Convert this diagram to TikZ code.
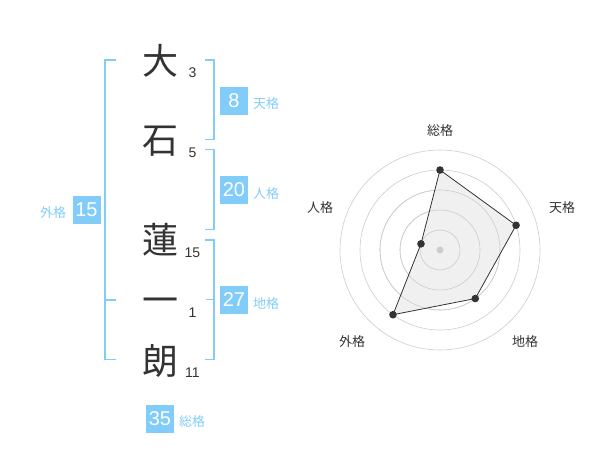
\documentclass[tikz,border=0pt]{standalone}
\usepackage{fontspec}
\setmainfont{Liberation Sans}
\newfontfamily\jp{Noto Sans CJK JP}
\definecolor{ink}{RGB}{51,51,51}
\definecolor{sky}{RGB}{130,204,250}
\definecolor{ringgray}{RGB}{204,204,204}
\definecolor{radarfill}{RGB}{240,240,240}
\begin{document}
\begin{tikzpicture}[x=1pt,y=-1pt,
        kanji/.style={font=\jp\fontsize{36}{36}\selectfont, text=ink, inner sep=0pt},
        strokes/.style={font=\fontsize{14}{14}\selectfont, text=ink, inner sep=0pt},
        kaku/.style={fill=sky, text=white, minimum size=28pt, inner sep=0pt, font=\fontsize{20}{20}\selectfont},
        kakulabel/.style={font=\jp\fontsize{13}{13}\selectfont, text=sky, inner sep=0pt},
        bracket/.style={draw=sky, line width=1.5pt},
        ring/.style={draw=ringgray, line width=0.6pt},
        axislabel/.style={font=\jp\fontsize{13}{13}\selectfont, text=ink, inner sep=0pt}]
        \useasboundingbox (0,0) rectangle (600,470);
        % name and stroke counts
        \foreach \name/\ch/\y/\n/\ny in {dai/大/61/3/73, ishi/石/141/5/153, ren/蓮/240/15/253, ichi/一/306/1/313, rou/朗/361/11/373} {
            \node[kanji] (\name) at (160,\y) {\ch};
            \node[strokes] (\name-n) at (192.5,\ny) {\n};
        }
        % brackets
        \draw[bracket] (116,60) -- (105,60) -- (105,359.5) -- (116,359.5);
        \draw[bracket] (105,300) -- (116,300);
        \draw[bracket] (205,60) -- (214,60) -- (214,139.5) -- (205,139.5);
        \draw[bracket] (205,149.5) -- (214,149.5) -- (214,229.5) -- (205,229.5);
        \draw[bracket] (205,240) -- (214,240) -- (214,359.5) -- (205,359.5);
        \draw[bracket] (206,299.5) -- (214,299.5);
        % scores
        \node[kaku] (ten) at (234,101) {8};
        \node[kakulabel] (ten-l) at (266,104) {天格};
        \node[kaku] (jin) at (234,190) {20};
        \node[kakulabel] (jin-l) at (266,194) {人格};
        \node[kaku] (chi) at (234,300) {27};
        \node[kakulabel] (chi-l) at (266,304) {地格};
        \node[kaku] (gai) at (86.5,210) {15};
        \node[kakulabel] (gai-l) at (53,213) {外格};
        \node[kaku] (sou) at (160,419) {35};
        \node[kakulabel] (sou-l) at (192,422) {総格};
        % radar chart
        \coordinate (c) at (440,250);
        \foreach \r in {20,40,...,100}
            \draw[ring] (c) circle[radius=\r pt];
        \foreach \p/\a/\v in {rsou/-90/80, rten/-18/80, rchi/54/60, rgai/126/80, rjin/198/20}
            \path (c) ++(\a:\v) coordinate (\p);
        \fill[radarfill] (rsou) -- (rten) -- (rchi) -- (rgai) -- (rjin) -- cycle;
        \foreach \r in {20,40,60}
            \draw[ring] (c) circle[radius=\r pt];
        \draw[ink, line width=0.8pt] (rsou) -- (rten) -- (rchi) -- (rgai) -- (rjin) -- cycle;
        \fill[ringgray] (c) circle[radius=3.5pt];
        \foreach \p in {rsou,rten,rchi,rgai,rjin}
            \fill[ink] (\p) circle[radius=3.8pt];
        \node[axislabel] (ax-sou) at (440,131) {総格};
        \node[axislabel] (ax-ten) at (562,208) {天格};
        \node[axislabel] (ax-chi) at (525,342) {地格};
        \node[axislabel] (ax-gai) at (352,342) {外格};
        \node[axislabel] (ax-jin) at (320,208) {人格};
\end{tikzpicture}
\end{document}
